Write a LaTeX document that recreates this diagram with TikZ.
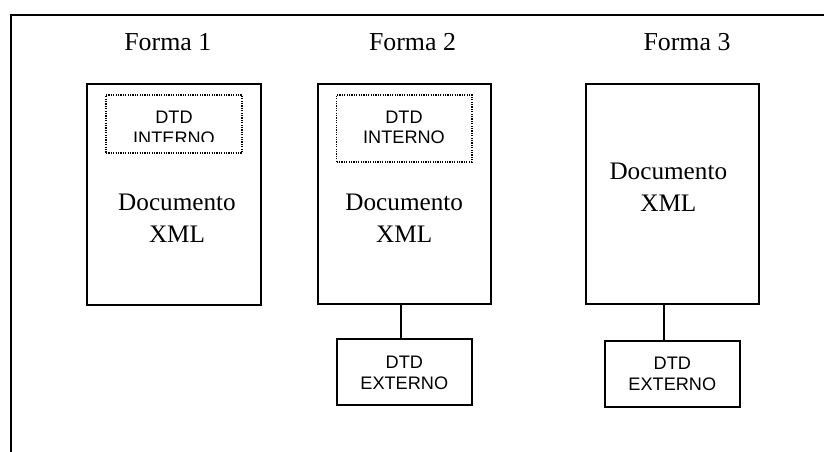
\documentclass[tikz,border=0pt]{standalone}
\usepackage{fontspec}
\setmainfont{Liberation Serif}
\newfontfamily\arialf{Liberation Sans}
\tikzset{
  docbox/.style={draw, line width=1.3pt, inner sep=0pt},
  dotbox/.style={draw, line width=0.9pt, dash pattern=on 0.9pt off 0.9pt, inner sep=0pt},
  extbox/.style={draw, line width=1.3pt, inner sep=0pt},
  link/.style={draw, line width=1.3pt},
  sertext/.style={anchor=base, inner sep=0pt, font=\fontsize{18.9}{24}\selectfont},
  ttltext/.style={anchor=base, inner sep=0pt, font=\fontsize{19.4}{24}\selectfont},
  dtdtext/.style={anchor=base, inner sep=0pt, font=\arialf\fontsize{13.6}{15.4}\selectfont},
}
\begin{document}
\begin{tikzpicture}[x=0.75pt,y=-0.75pt]
\useasboundingbox (0,0) rectangle (824,452);
% outer frame (cropped at right and bottom)
\draw[line width=1.3pt] (11,470) -- (11,15) -- (840,15);

% titles
\node[ttltext] (f1) at (167.8,51) {Forma 1};
\node[ttltext] (f2) at (412.5,51) {Forma 2};
\node[ttltext] (f3) at (687,51) {Forma 3};

% document boxes
\node[docbox, minimum width=174*0.75pt, minimum height=221*0.75pt] (doc1) at (174,194.5) {};
\node[docbox, minimum width=173.3*0.75pt, minimum height=220*0.75pt] (doc2) at (404.4,194) {};
\node[docbox, minimum width=172.7*0.75pt, minimum height=220*0.75pt] (doc3) at (672.4,194) {};

% internal DTD boxes
\node[dotbox, minimum width=136*0.75pt, minimum height=58*0.75pt] (int1) at (174,124) {};
\node[dotbox, minimum width=135.3*0.75pt, minimum height=67*0.75pt] (int2) at (404.3,128.5) {};

\begin{scope}
  \clip (100,90) rectangle (250,141.6);
  \node[dtdtext] (int1t) at (174,123.7) {\begin{tabular}[t]{@{}c@{}}DTD\\INTERNO\end{tabular}};
\end{scope}
\node[dtdtext] (int2t) at (404,123.3) {\begin{tabular}[t]{@{}c@{}}DTD\\INTERNO\end{tabular}};

% document texts
\node[sertext] (d1t) at (177,210.7) {\begin{tabular}[t]{@{}c@{}}Documento\\XML\end{tabular}};
\node[sertext] (d2t) at (404.2,210.7) {\begin{tabular}[t]{@{}c@{}}Documento\\XML\end{tabular}};
\node[sertext] (d3t) at (668.3,180) {\begin{tabular}[t]{@{}c@{}}Documento\\XML\end{tabular}};

% external DTD boxes
\node[extbox, minimum width=134.7*0.75pt, minimum height=66*0.75pt] (ext2) at (404.3,372.3) {};
\node[extbox, minimum width=134.7*0.75pt, minimum height=66*0.75pt] (ext3) at (672.7,374.3) {};
\node[dtdtext] (ext2t) at (404.3,368.5) {\begin{tabular}[t]{@{}c@{}}DTD\\EXTERNO\end{tabular}};
\node[dtdtext] (ext3t) at (672.3,369.5) {\begin{tabular}[t]{@{}c@{}}DTD\\EXTERNO\end{tabular}};

% connectors
\draw[link] ([xshift=-3.7*0.75pt]doc2.south) -- ([xshift=-3.7*0.75pt]doc2.south |- ext2.north);
\draw[link] ([xshift=-8.4*0.75pt]doc3.south) -- ([xshift=-8.4*0.75pt]doc3.south |- ext3.north);
\end{tikzpicture}
\end{document}
